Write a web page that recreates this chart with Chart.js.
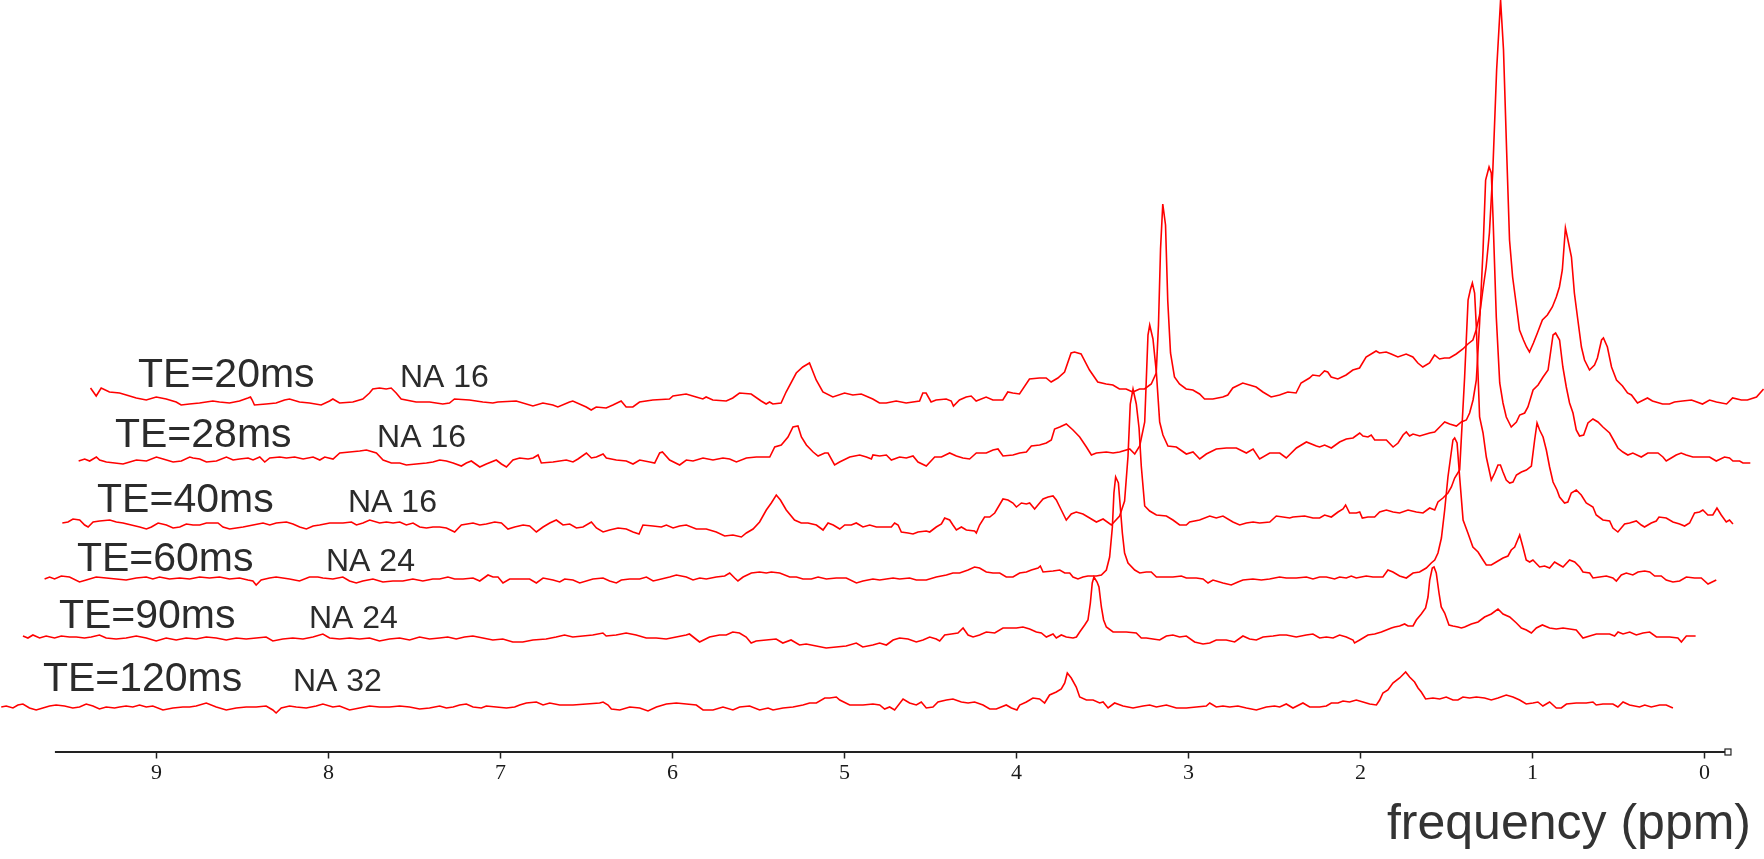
<!DOCTYPE html>
<html>
<head>
<meta charset="utf-8">
<script src="https://cdn.jsdelivr.net/npm/chart.js@4.4.1/dist/chart.umd.min.js"></script>
<style>
  html, body { margin: 0; padding: 0; background: #fff; }
  #wrap { width: 1764px; height: 859px; }
</style>
</head>
<body>
<div id="wrap"><canvas id="spectra"></canvas></div>
<script>
// axis ticks (ppm)
const tickValues = [9, 8, 7, 6, 5, 4, 3, 2, 1, 0];

// one label pair per trace, back (TE=20) to front (TE=120)
const echoTimes = ["TE=20ms", "TE=28ms", "TE=40ms", "TE=60ms", "TE=90ms", "TE=120ms"];
const averages = ["NA 16", "NA 16", "NA 16", "NA 24", "NA 24", "NA 32"];

// stacked-plot skew: each trace slides right (ppm) and up (intensity units)
const traceShift = [0.517, 0.448, 0.355, 0.25, 0.122, 0];
const traceLift = [351.5, 291.5, 227.5, 171.5, 113.5, 44.5];

// label anchors (axis ppm) and how far above the trace baseline they sit
const echoLabelPpm = [9.107, 9.241, 9.345, 9.462, 9.567, 9.66];
const averageLabelPpm = [7.584, 7.717, 7.886, 8.014, 8.113, 8.206];
const labelRise = [13, 13, 12, 9, 10, 16];

// axis line extent (ppm)
const axisFrom = 9.59, axisTo = -0.12, axisEndBox = -0.137;

// spectra: [ppm, intensity]
const te20 = [
  [9.900,12],[9.867,4],[9.838,12],[9.790,8],[9.731,7],[9.692,5],[9.634,2],[9.576,0],[9.518,3],[9.460,1],
  [9.402,-2],[9.373,-5],[9.325,-4],[9.266,-3],[9.189,-1],[9.150,-2],[9.092,-3],[9.034,-1],[8.985,2],[8.970,3],
  [8.960,0],[8.947,-5],[8.879,-4],[8.821,-3],[8.772,0],[8.743,1],[8.685,-2],[8.627,-3],[8.559,-5],[8.510,-1],
  [8.491,1],[8.452,-3],[8.375,-2],[8.317,1],[8.278,7],[8.259,11],[8.220,12],[8.181,11],[8.152,12],[8.123,7],
  [8.094,1],[8.007,-2],[7.929,-2],[7.852,-4],[7.813,-3],[7.784,1],[7.697,0],[7.619,-2],[7.561,-3],[7.532,-2],
  [7.425,-1],[7.328,-6],[7.270,-3],[7.212,-5],[7.183,-7],[7.115,-2],[7.096,-1],[7.018,-7],[6.989,-10],[6.960,-7],
  [6.902,-8],[6.863,-5],[6.815,-1],[6.786,-7],[6.747,-7],[6.708,-2],[6.631,0],[6.534,1],[6.514,4],[6.437,6],
  [6.379,3],[6.340,1],[6.321,3],[6.282,0],[6.204,-1],[6.166,2],[6.127,7],[6.059,6],[6.001,-1],[5.972,-4],
  [5.952,-2],[5.933,-4],[5.885,-3],[5.856,8],[5.797,27],[5.759,33],[5.720,37],[5.681,20],[5.642,8],[5.584,3],
  [5.516,7],[5.468,5],[5.419,6],[5.352,1],[5.313,-3],[5.274,-3],[5.216,-1],[5.158,-3],[5.080,-1],[5.061,7],
  [5.042,7],[5.013,-2],[4.984,0],[4.925,1],[4.896,-1],[4.883,-6],[4.848,0],[4.809,3],[4.780,4],[4.751,-1],
  [4.693,3],[4.654,0],[4.596,0],[4.567,8],[4.538,7],[4.499,6],[4.441,21],[4.383,22],[4.344,22],[4.315,18],
  [4.276,22],[4.237,28],[4.199,47],[4.179,48],[4.141,46],[4.092,30],[4.044,18],[3.995,16],[3.956,15],[3.918,11],
  [3.879,11],[3.840,8],[3.801,11],[3.772,11],[3.733,16],[3.704,27],[3.691,75],[3.679,151],[3.666,196],[3.650,175],
  [3.637,99],[3.621,47],[3.598,23],[3.569,16],[3.530,11],[3.491,10],[3.452,6],[3.423,1],[3.375,1],[3.317,3],
  [3.288,5],[3.259,12],[3.201,17],[3.162,15],[3.123,13],[3.084,8],[3.036,3],[2.987,5],[2.939,8],[2.891,7],
  [2.862,17],[2.813,22],[2.794,25],[2.755,24],[2.726,29],[2.707,28],[2.687,23],[2.648,21],[2.600,25],[2.561,30],
  [2.522,32],[2.484,43],[2.445,47],[2.426,49],[2.406,47],[2.367,48],[2.338,46],[2.299,43],[2.251,46],[2.212,43],
  [2.183,37],[2.154,33],[2.115,37],[2.086,45],[2.057,41],[2.028,42],[1.999,42],[1.960,46],[1.921,51],[1.892,56],
  [1.863,60],[1.844,70],[1.824,85],[1.805,110],[1.786,133],[1.767,167],[1.747,230],[1.725,330],[1.702,400],[1.685,350],
  [1.667,250],[1.650,160],[1.632,123],[1.609,93],[1.592,70],[1.569,60],[1.551,53],[1.534,48],[1.511,57],[1.488,67],
  [1.459,80],[1.430,85],[1.401,93],[1.378,103],[1.360,113],[1.343,130],[1.325,172],[1.314,163],[1.290,143],[1.273,107],
  [1.255,83],[1.232,53],[1.214,40],[1.185,30],[1.156,35],[1.139,42],[1.115,60],[1.104,62],[1.081,53],[1.057,33],
  [1.028,20],[0.993,14],[0.964,7],[0.941,5],[0.906,-3],[0.848,2],[0.819,-1],[0.760,-4],[0.720,-4],[0.691,-2],
  [0.644,-1],[0.592,0],[0.528,-4],[0.487,0],[0.447,-2],[0.388,-4],[0.353,2],[0.302,0],[0.267,0],[0.214,3],
  [0.173,11]
];

const te28 = [
  [9.900,-1],[9.865,1],[9.836,-1],[9.797,3],[9.778,0],[9.739,-2],[9.690,-3],[9.642,-4],[9.603,-2],[9.564,0],
  [9.506,-1],[9.448,3],[9.409,1],[9.351,-2],[9.303,-1],[9.254,3],[9.235,2],[9.196,1],[9.157,-2],[9.099,-1],
  [9.041,3],[9.002,0],[8.964,1],[8.915,2],[8.886,0],[8.847,3],[8.818,-2],[8.789,2],[8.731,3],[8.692,2],
  [8.644,3],[8.595,1],[8.537,3],[8.498,0],[8.469,3],[8.421,1],[8.382,7],[8.324,8],[8.266,9],[8.227,10],
  [8.169,7],[8.130,0],[8.082,-3],[8.033,-3],[7.995,-5],[7.937,-4],[7.878,-3],[7.840,-2],[7.801,0],[7.762,-1],
  [7.723,-3],[7.675,-6],[7.646,-3],[7.617,-1],[7.568,-7],[7.530,-4],[7.472,0],[7.442,-4],[7.413,-7],[7.375,0],
  [7.336,2],[7.287,1],[7.258,2],[7.229,5],[7.210,-3],[7.142,-2],[7.065,0],[7.026,-2],[6.997,1],[6.948,7],
  [6.919,2],[6.890,3],[6.851,6],[6.832,2],[6.774,0],[6.716,-1],[6.677,-4],[6.638,0],[6.580,-2],[6.551,-3],
  [6.522,7],[6.506,8],[6.464,0],[6.406,-5],[6.367,0],[6.328,-1],[6.270,2],[6.212,0],[6.154,2],[6.115,1],
  [6.076,-2],[6.018,2],[5.960,3],[5.882,3],[5.853,13],[5.815,15],[5.776,23],[5.747,33],[5.718,34],[5.698,23],
  [5.669,15],[5.630,8],[5.601,4],[5.562,7],[5.543,7],[5.505,-5],[5.476,-2],[5.417,3],[5.359,5],[5.320,3],
  [5.291,1],[5.282,5],[5.243,4],[5.204,5],[5.175,0],[5.127,3],[5.088,2],[5.049,4],[5.020,-2],[4.972,-6],
  [4.923,3],[4.884,3],[4.836,7],[4.797,4],[4.759,2],[4.720,1],[4.681,7],[4.623,7],[4.584,10],[4.555,11],
  [4.526,4],[4.468,5],[4.429,7],[4.390,8],[4.361,14],[4.313,15],[4.274,17],[4.245,20],[4.226,31],[4.196,33],
  [4.158,36],[4.119,30],[4.080,23],[4.041,13],[4.012,5],[3.983,7],[3.925,8],[3.886,7],[3.848,8],[3.789,11],
  [3.760,6],[3.731,14],[3.702,38],[3.683,125],[3.673,135],[3.654,121],[3.634,87],[3.615,38],[3.596,25],[3.567,14],
  [3.518,13],[3.460,6],[3.421,8],[3.382,1],[3.344,6],[3.286,11],[3.227,12],[3.169,12],[3.111,7],[3.072,11],
  [3.034,1],[2.975,7],[2.917,7],[2.879,2],[2.820,12],[2.762,18],[2.704,14],[2.685,13],[2.656,15],[2.617,12],
  [2.569,18],[2.530,21],[2.491,22],[2.452,27],[2.433,24],[2.404,23],[2.385,25],[2.365,20],[2.336,20],[2.297,20],
  [2.258,13],[2.229,17],[2.200,25],[2.181,28],[2.162,24],[2.142,26],[2.103,24],[2.045,27],[2.016,28],[1.987,33],
  [1.958,38],[1.929,36],[1.890,34],[1.861,38],[1.832,40],[1.813,47],[1.793,60],[1.774,80],[1.755,137],[1.735,210],
  [1.720,280],[1.700,293],[1.687,287],[1.677,243],[1.658,143],[1.638,77],[1.619,57],[1.600,43],[1.571,33],[1.541,38],
  [1.522,45],[1.493,47],[1.474,53],[1.444,70],[1.415,75],[1.386,83],[1.357,90],[1.338,113],[1.328,125],[1.313,127],
  [1.290,120],[1.271,93],[1.251,73],[1.232,57],[1.212,47],[1.193,30],[1.174,24],[1.150,25],[1.125,37],[1.096,41],
  [1.067,38],[1.038,33],[0.999,27],[0.970,18],[0.951,12],[0.922,8],[0.893,5],[0.864,7],[0.815,3],[0.777,7],
  [0.718,7],[0.689,3],[0.670,-1],[0.641,2],[0.612,5],[0.583,7],[0.554,5],[0.515,3],[0.476,3],[0.418,3],
  [0.379,-1],[0.331,3],[0.302,2],[0.282,-1],[0.243,-1],[0.224,-3],[0.181,-3]
];

const te40 = [
  [9.902,1],[9.869,2],[9.840,5],[9.801,4],[9.772,-1],[9.752,-3],[9.723,2],[9.685,3],[9.626,4],[9.588,2],
  [9.549,1],[9.501,-1],[9.452,-3],[9.413,-5],[9.384,-3],[9.345,1],[9.297,-1],[9.258,-4],[9.219,-3],[9.181,0],
  [9.142,-1],[9.103,-1],[9.064,1],[9.026,1],[8.997,1],[8.968,-3],[8.929,-5],[8.890,-4],[8.851,-3],[8.793,-1],
  [8.735,1],[8.696,-1],[8.658,1],[8.599,2],[8.561,0],[8.522,-3],[8.483,-5],[8.444,-2],[8.406,-1],[8.347,1],
  [8.309,1],[8.270,1],[8.221,2],[8.192,-1],[8.154,1],[8.115,4],[8.057,1],[8.018,2],[7.979,1],[7.940,2],
  [7.902,-1],[7.863,1],[7.824,-3],[7.785,-4],[7.747,-3],[7.708,-3],[7.669,-4],[7.621,-8],[7.582,-1],[7.514,1],
  [7.475,-1],[7.437,0],[7.388,2],[7.349,1],[7.311,-5],[7.272,-3],[7.223,-1],[7.185,-2],[7.146,-8],[7.107,-3],
  [7.068,1],[7.030,4],[6.991,-1],[6.952,0],[6.913,-4],[6.875,-3],[6.826,2],[6.797,-4],[6.758,-8],[6.720,-6],
  [6.671,-4],[6.623,-5],[6.584,-8],[6.549,-10],[6.526,-1],[6.468,-2],[6.419,-3],[6.390,-1],[6.351,-4],[6.313,-2],
  [6.274,-1],[6.216,-5],[6.158,-5],[6.100,-8],[6.051,-12],[6.003,-11],[5.954,-13],[5.925,-9],[5.886,-5],[5.848,2],
  [5.809,14],[5.780,21],[5.751,29],[5.727,24],[5.693,14],[5.645,4],[5.606,1],[5.567,1],[5.518,-1],[5.479,-6],
  [5.450,1],[5.420,-1],[5.382,-5],[5.353,-1],[5.315,-1],[5.286,1],[5.247,-3],[5.208,-1],[5.169,-3],[5.131,-3],
  [5.082,-3],[5.063,1],[5.043,-1],[5.024,-8],[4.985,-9],[4.956,-10],[4.927,-8],[4.879,-7],[4.859,-8],[4.821,-3],
  [4.791,0],[4.772,6],[4.743,4],[4.724,-1],[4.704,-6],[4.675,-3],[4.646,-6],[4.598,-7],[4.588,-9],[4.569,-1],
  [4.540,7],[4.510,7],[4.481,11],[4.433,25],[4.404,24],[4.375,21],[4.355,17],[4.326,21],[4.297,20],[4.278,21],
  [4.249,15],[4.220,21],[4.200,25],[4.171,27],[4.142,28],[4.123,24],[4.094,14],[4.065,4],[4.036,10],[4.007,12],
  [3.968,10],[3.929,6],[3.890,2],[3.851,5],[3.803,-1],[3.755,8],[3.726,23],[3.706,68],[3.693,120],[3.677,135],
  [3.658,120],[3.642,96],[3.629,58],[3.609,18],[3.580,13],[3.541,9],[3.483,8],[3.445,4],[3.406,-1],[3.367,-1],
  [3.348,2],[3.290,4],[3.231,8],[3.193,6],[3.154,8],[3.096,2],[3.057,-1],[3.018,1],[2.979,2],[2.941,1],
  [2.882,2],[2.844,8],[2.766,6],[2.747,7],[2.679,8],[2.631,6],[2.592,6],[2.563,9],[2.524,7],[2.485,12],
  [2.456,15],[2.441,19],[2.418,11],[2.379,11],[2.359,12],[2.344,6],[2.311,7],[2.272,7],[2.243,12],[2.204,14],
  [2.165,12],[2.127,11],[2.078,14],[2.030,12],[1.991,11],[1.952,16],[1.923,14],[1.904,22],[1.875,26],[1.846,31],
  [1.826,37],[1.807,46],[1.778,54],[1.749,147],[1.729,224],[1.716,234],[1.704,241],[1.691,231],[1.681,197],[1.662,107],
  [1.642,91],[1.623,67],[1.594,44],[1.574,51],[1.555,59],[1.541,59],[1.526,52],[1.507,44],[1.487,41],[1.468,42],
  [1.448,49],[1.419,52],[1.390,54],[1.361,58],[1.342,84],[1.328,101],[1.313,94],[1.293,87],[1.274,74],[1.255,57],
  [1.235,42],[1.212,34],[1.197,27],[1.168,21],[1.149,22],[1.129,31],[1.100,34],[1.071,29],[1.042,21],[1.003,17],
  [0.984,9],[0.945,4],[0.906,3],[0.887,-4],[0.858,-8],[0.819,0],[0.790,1],[0.751,3],[0.722,-1],[0.703,-3],
  [0.664,1],[0.635,3],[0.619,7],[0.577,6],[0.538,2],[0.499,0],[0.470,-2],[0.441,1],[0.412,11],[0.383,12],
  [0.364,14],[0.335,9],[0.306,9],[0.282,16],[0.257,9],[0.228,2],[0.209,4],[0.189,0]
];

const te60 = [
  [9.900,1],[9.871,3],[9.842,1],[9.803,4],[9.755,3],[9.697,-2],[9.658,0],[9.600,3],[9.542,2],[9.484,1],
  [9.426,0],[9.367,2],[9.309,3],[9.271,1],[9.232,3],[9.174,1],[9.115,2],[9.057,1],[8.999,3],[8.941,2],
  [8.883,3],[8.825,1],[8.767,2],[8.718,0],[8.689,-1],[8.670,-5],[8.641,0],[8.592,2],[8.554,3],[8.515,2],
  [8.476,1],[8.418,-1],[8.360,3],[8.311,3],[8.282,2],[8.224,1],[8.166,3],[8.127,-1],[8.088,-3],[8.050,-1],
  [7.991,1],[7.933,-2],[7.875,-1],[7.817,-1],[7.759,1],[7.701,-1],[7.643,1],[7.603,1],[7.555,3],[7.516,1],
  [7.467,1],[7.409,2],[7.370,-1],[7.322,5],[7.293,3],[7.264,3],[7.235,-3],[7.196,1],[7.138,1],[7.080,1],
  [7.041,-3],[7.002,2],[6.944,0],[6.905,-2],[6.876,1],[6.828,0],[6.789,-3],[6.712,1],[6.653,2],[6.615,-1],
  [6.576,-3],[6.547,0],[6.498,1],[6.440,1],[6.401,3],[6.362,-1],[6.314,1],[6.266,3],[6.227,5],[6.169,3],
  [6.130,0],[6.091,2],[6.053,1],[5.995,3],[5.946,4],[5.917,7],[5.888,2],[5.869,-1],[5.839,3],[5.791,7],
  [5.743,8],[5.704,7],[5.675,8],[5.626,7],[5.568,3],[5.529,3],[5.491,1],[5.442,1],[5.403,3],[5.355,1],
  [5.297,2],[5.239,2],[5.180,-3],[5.142,-1],[5.084,1],[5.045,0],[5.006,1],[4.967,2],[4.929,1],[4.871,2],
  [4.832,0],[4.774,0],[4.716,3],[4.657,5],[4.619,7],[4.580,7],[4.531,10],[4.493,13],[4.464,12],[4.425,8],
  [4.386,7],[4.347,7],[4.309,3],[4.270,3],[4.231,7],[4.192,8],[4.163,10],[4.124,12],[4.111,14],[4.095,8],
  [4.037,9],[3.998,10],[3.969,7],[3.940,7],[3.921,3],[3.892,1],[3.863,3],[3.834,4],[3.805,4],[3.785,4],
  [3.756,5],[3.727,10],[3.708,23],[3.692,53],[3.683,87],[3.673,103],[3.657,97],[3.646,73],[3.634,47],[3.621,27],
  [3.601,17],[3.562,10],[3.533,7],[3.495,8],[3.466,8],[3.436,3],[3.378,3],[3.340,3],[3.291,4],[3.262,2],
  [3.204,2],[3.165,1],[3.136,-3],[3.107,0],[3.049,-3],[3.001,-5],[2.962,-2],[2.933,0],[2.875,1],[2.826,0],
  [2.778,1],[2.720,3],[2.681,2],[2.623,2],[2.564,3],[2.526,1],[2.487,3],[2.448,3],[2.400,1],[2.371,3],
  [2.332,2],[2.303,4],[2.274,2],[2.245,3],[2.216,4],[2.177,3],[2.119,3],[2.090,10],[2.061,8],[2.022,4],
  [1.983,2],[1.944,7],[1.906,8],[1.867,12],[1.838,17],[1.818,20],[1.799,27],[1.779,42],[1.760,70],[1.741,103],
  [1.712,140],[1.702,142],[1.688,137],[1.673,103],[1.653,60],[1.625,47],[1.596,33],[1.566,28],[1.537,20],[1.518,15],
  [1.489,15],[1.460,18],[1.421,22],[1.392,24],[1.373,30],[1.353,33],[1.324,45],[1.305,33],[1.286,20],[1.266,18],
  [1.247,20],[1.208,13],[1.179,14],[1.150,12],[1.121,18],[1.092,15],[1.072,13],[1.034,20],[1.004,18],[0.975,13],
  [0.956,8],[0.917,7],[0.898,2],[0.859,3],[0.820,4],[0.782,2],[0.762,-1],[0.733,5],[0.704,7],[0.666,5],
  [0.636,8],[0.597,9],[0.568,8],[0.539,4],[0.501,4],[0.472,0],[0.433,-2],[0.394,-1],[0.355,3],[0.307,2],
  [0.268,2],[0.229,-4],[0.181,0]
];

const te90 = [
  [9.898,2],[9.869,0],[9.840,3],[9.801,0],[9.763,2],[9.714,0],[9.675,2],[9.627,1],[9.588,1],[9.540,0],
  [9.501,1],[9.453,3],[9.414,0],[9.356,-1],[9.298,0],[9.239,2],[9.181,0],[9.123,-3],[9.065,0],[9.007,-2],
  [8.949,0],[8.890,-1],[8.832,1],[8.774,0],[8.716,-2],[8.658,0],[8.600,-1],[8.542,0],[8.484,1],[8.445,-3],
  [8.387,-1],[8.329,0],[8.270,-1],[8.212,1],[8.154,4],[8.115,0],[8.057,-1],[7.999,0],[7.941,-1],[7.883,0],
  [7.825,-3],[7.767,-1],[7.708,0],[7.650,-2],[7.592,1],[7.534,-1],[7.476,0],[7.428,1],[7.379,-1],[7.331,1],
  [7.282,2],[7.224,0],[7.166,-2],[7.108,-1],[7.050,-4],[6.992,-4],[6.933,-2],[6.856,-1],[6.798,1],[6.749,3],
  [6.701,1],[6.643,2],[6.585,3],[6.526,5],[6.507,2],[6.449,3],[6.391,5],[6.333,3],[6.274,0],[6.216,0],
  [6.158,-1],[6.100,1],[6.042,3],[6.023,4],[5.964,-4],[5.906,1],[5.848,3],[5.809,3],[5.771,6],[5.732,5],
  [5.693,1],[5.664,-5],[5.635,-3],[5.577,-2],[5.519,-1],[5.480,-5],[5.432,-2],[5.383,-7],[5.344,-6],[5.286,-8],
  [5.228,-10],[5.170,-9],[5.112,-8],[5.053,-5],[5.015,-9],[4.957,-7],[4.917,-5],[4.878,-7],[4.839,-2],[4.801,0],
  [4.752,-1],[4.704,-4],[4.665,-2],[4.626,1],[4.588,-1],[4.568,-3],[4.539,3],[4.500,4],[4.462,5],[4.432,10],
  [4.403,3],[4.374,1],[4.336,3],[4.297,6],[4.248,5],[4.200,10],[4.171,10],[4.122,10],[4.084,11],[4.045,9],
  [4.006,6],[3.977,5],[3.948,1],[3.909,4],[3.890,0],[3.861,3],[3.832,1],[3.793,0],[3.773,1],[3.754,6],
  [3.725,13],[3.706,18],[3.692,35],[3.681,55],[3.671,61],[3.653,56],[3.642,51],[3.628,31],[3.615,18],[3.599,11],
  [3.560,6],[3.521,6],[3.483,6],[3.425,5],[3.396,0],[3.367,0],[3.328,-1],[3.289,-2],[3.250,2],[3.212,3],
  [3.173,1],[3.134,2],[3.086,-4],[3.037,-6],[2.998,-5],[2.960,-2],[2.902,-2],[2.853,-4],[2.805,2],[2.766,-1],
  [2.727,-2],[2.688,1],[2.630,2],[2.591,3],[2.552,3],[2.495,1],[2.437,3],[2.398,4],[2.359,0],[2.320,1],
  [2.281,0],[2.243,3],[2.204,1],[2.165,-2],[2.156,-5],[2.126,-2],[2.078,3],[2.039,4],[2.000,6],[1.971,8],
  [1.942,10],[1.923,11],[1.894,12],[1.865,14],[1.845,12],[1.816,12],[1.797,18],[1.768,24],[1.743,30],[1.729,41],
  [1.719,58],[1.704,70],[1.694,71],[1.681,65],[1.665,45],[1.652,31],[1.632,25],[1.607,13],[1.584,12],[1.555,11],
  [1.535,10],[1.516,11],[1.477,14],[1.438,16],[1.400,21],[1.361,24],[1.322,29],[1.293,24],[1.254,21],[1.215,15],
  [1.186,10],[1.157,8],[1.128,5],[1.099,10],[1.064,13],[1.022,10],[0.983,9],[0.944,10],[0.905,9],[0.867,8],
  [0.828,0],[0.789,2],[0.750,4],[0.712,4],[0.673,4],[0.644,2],[0.624,6],[0.595,4],[0.556,6],[0.518,3],
  [0.479,5],[0.440,6],[0.401,1],[0.363,1],[0.324,1],[0.276,0],[0.256,-4],[0.227,2],[0.173,2]
];

const te120 = [
  [9.902,0],[9.873,1],[9.834,-1],[9.805,2],[9.776,3],[9.738,-1],[9.699,-3],[9.660,-1],[9.621,1],[9.583,2],
  [9.534,1],[9.486,-1],[9.447,0],[9.408,3],[9.369,1],[9.331,-2],[9.292,0],[9.243,-1],[9.214,0],[9.176,1],
  [9.137,0],[9.098,2],[9.059,0],[9.021,1],[8.962,-3],[8.904,-1],[8.846,0],[8.807,0],[8.769,1],[8.710,4],
  [8.652,0],[8.594,-3],[8.536,-1],[8.478,0],[8.420,0],[8.362,1],[8.323,-3],[8.304,-6],[8.274,-1],[8.226,1],
  [8.187,0],[8.129,-1],[8.071,1],[8.032,3],[7.974,0],[7.935,1],[7.877,-3],[7.819,-1],[7.761,1],[7.703,0],
  [7.645,0],[7.586,1],[7.528,0],[7.470,-2],[7.412,-1],[7.353,1],[7.314,-1],[7.275,0],[7.237,2],[7.198,3],
  [7.159,0],[7.111,-1],[7.082,1],[7.024,0],[6.965,-1],[6.917,0],[6.888,2],[6.849,4],[6.791,5],[6.752,2],
  [6.713,4],[6.655,2],[6.578,2],[6.500,3],[6.423,4],[6.403,5],[6.374,2],[6.355,-2],[6.306,-3],[6.248,0],
  [6.190,-1],[6.142,-4],[6.093,0],[6.035,3],[5.977,4],[5.919,3],[5.861,2],[5.822,-3],[5.764,-3],[5.706,0],
  [5.648,-3],[5.609,0],[5.551,1],[5.493,-3],[5.444,-1],[5.415,-3],[5.357,-1],[5.299,0],[5.241,2],[5.202,4],
  [5.163,4],[5.114,9],[5.085,9],[5.047,10],[5.027,7],[4.969,2],[4.892,2],[4.834,3],[4.795,2],[4.766,-2],
  [4.737,0],[4.708,-3],[4.659,8],[4.621,4],[4.582,2],[4.553,5],[4.524,-1],[4.485,0],[4.456,5],[4.407,7],
  [4.369,8],[4.320,5],[4.281,4],[4.243,5],[4.194,2],[4.155,-2],[4.117,-2],[4.059,2],[4.029,-1],[3.997,-3],
  [3.981,2],[3.942,5],[3.904,9],[3.865,8],[3.836,4],[3.807,12],[3.768,15],[3.739,18],[3.719,24],[3.704,34],
  [3.681,29],[3.652,20],[3.632,10],[3.593,7],[3.554,7],[3.516,4],[3.496,5],[3.467,-1],[3.429,4],[3.380,1],
  [3.322,-1],[3.264,1],[3.225,2],[3.186,0],[3.128,2],[3.070,-1],[3.012,-1],[2.954,0],[2.896,1],[2.876,4],
  [2.838,0],[2.799,1],[2.760,0],[2.712,1],[2.663,-1],[2.605,-3],[2.547,0],[2.499,1],[2.469,0],[2.431,3],
  [2.392,-1],[2.334,4],[2.295,0],[2.237,0],[2.198,1],[2.169,4],[2.130,4],[2.101,6],[2.063,5],[2.024,7],
  [1.985,5],[1.946,3],[1.907,2],[1.888,7],[1.869,14],[1.840,17],[1.811,24],[1.772,29],[1.737,35],[1.714,30],
  [1.685,25],[1.665,19],[1.646,15],[1.621,8],[1.578,9],[1.539,8],[1.501,10],[1.462,7],[1.433,7],[1.404,10],
  [1.365,9],[1.326,10],[1.278,9],[1.239,7],[1.200,9],[1.152,12],[1.113,10],[1.074,7],[1.036,3],[0.997,4],
  [0.968,5],[0.939,1],[0.900,5],[0.861,-1],[0.832,-1],[0.802,3],[0.745,4],[0.687,4],[0.648,5],[0.629,2],
  [0.590,3],[0.532,3],[0.503,0],[0.473,5],[0.435,2],[0.377,0],[0.347,2],[0.309,0],[0.260,2],[0.222,2],
  [0.183,-1]
];

const spectra = [te20, te28, te40, te60, te90, te120];

// axis line, end box, trace labels and the axis title
const annotate = {
  id: "annotate",
  afterDraw(chart) {
    const { ctx, chartArea } = chart;
    const x = chart.scales.x, y = chart.scales.y;
    ctx.save();

    const yb = chartArea.bottom + 0.5;
    ctx.strokeStyle = "#222";
    ctx.lineWidth = 2;
    ctx.beginPath();
    ctx.moveTo(x.getPixelForValue(axisFrom), yb);
    ctx.lineTo(x.getPixelForValue(axisTo), yb);
    ctx.stroke();
    const bx = x.getPixelForValue(axisEndBox);
    ctx.lineWidth = 1.2;
    ctx.fillStyle = "#fff";
    ctx.fillRect(bx - 3, yb - 3, 6, 6);
    ctx.strokeRect(bx - 3, yb - 3, 6, 6);

    ctx.fillStyle = "#2b2b2b";
    ctx.textBaseline = "alphabetic";
    ctx.textAlign = "left";
    echoTimes.forEach((t, i) => {
      const ly = y.getPixelForValue(traceLift[i] + labelRise[i]);
      ctx.font = '41px "Liberation Sans", Arial, sans-serif';
      ctx.fillText(t, x.getPixelForValue(echoLabelPpm[i]), ly);
      ctx.font = '32px "Liberation Sans", Arial, sans-serif';
      ctx.fillText(averages[i], x.getPixelForValue(averageLabelPpm[i]), ly);
    });

    ctx.font = '50px "Liberation Sans", Arial, sans-serif';
    ctx.fillStyle = "#333";
    ctx.textAlign = "right";
    ctx.fillText("frequency (ppm)", chart.width - 13, chart.height - 20);
    ctx.restore();
  }
};

new Chart(document.getElementById("spectra"), {
  type: "scatter",
  data: {
    datasets: spectra.map((trace, i) => ({
      label: echoTimes[i],
      data: trace.map(([ppm, v]) => ({ x: ppm - traceShift[i], y: traceLift[i] + v })),
      showLine: true,
      borderColor: "#ff0000",
      borderWidth: 1.6,
      pointRadius: 0,
      tension: 0,
      clip: false
    }))
  },
  options: {
    responsive: true,
    maintainAspectRatio: false,
    animation: false,
    devicePixelRatio: 1,
    layout: { padding: 0 },
    plugins: { legend: { display: false }, tooltip: { enabled: false } },
    scales: {
      x: {
        type: "linear",
        reverse: true,
        min: -0.3465,
        max: 9.9093,
        afterBuildTicks: (scale) => { scale.ticks = tickValues.map((v) => ({ value: v })); },
        afterFit: (scale) => { scale.height = 107.5; },
        border: { display: false },
        grid: { drawOnChartArea: false, drawTicks: true, tickLength: 7, tickColor: "#222", tickWidth: 1.5 },
        ticks: {
          font: { family: '"Liberation Serif", "Times New Roman", serif', size: 22 },
          color: "#1a1a1a",
          padding: 2,
          maxRotation: 0,
          autoSkip: false
        }
      },
      y: { display: false, min: 0, max: 751.5 }
    }
  },
  plugins: [annotate]
});
</script>
</body>
</html>
